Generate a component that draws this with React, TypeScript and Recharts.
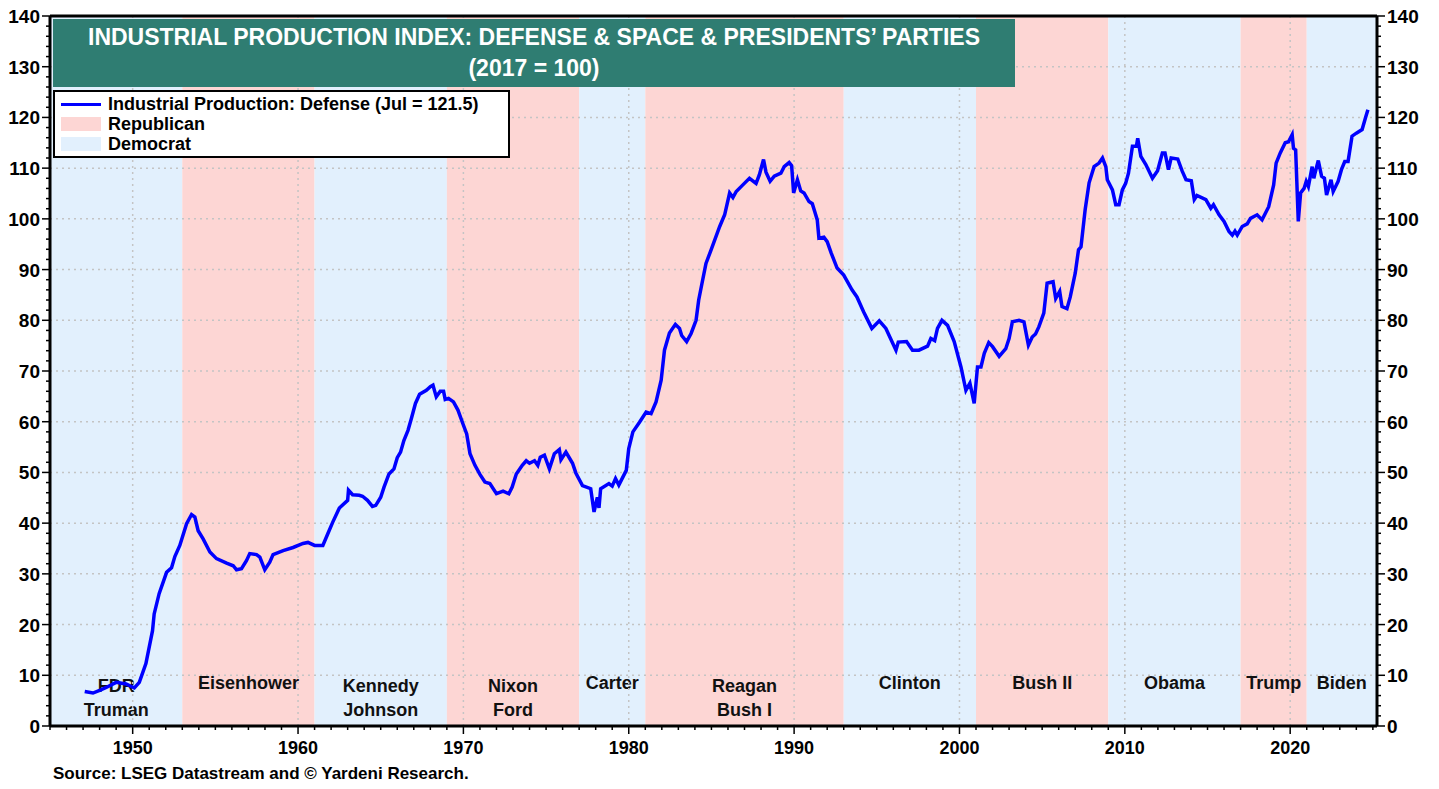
import React from "react";
import { LineChart, Line, XAxis, YAxis, ReferenceArea, ReferenceLine } from "recharts";

// monthly-ish readings of Industrial Production: Defense & Space (2017 = 100)
const YEARS = [
  1947.1, 1947.6, 1948.0, 1948.4, 1949.0, 1949.6, 1950.1, 1950.4, 1950.8, 1951.2,
  1951.3, 1951.6, 1952.05, 1952.35, 1952.55, 1952.85, 1953.26, 1953.56, 1953.76, 1953.96,
  1954.26, 1954.67, 1955.07, 1955.68, 1956.08, 1956.28, 1956.58, 1956.88, 1957.08, 1957.49,
  1957.69, 1957.99, 1958.29, 1958.49, 1959.1, 1959.7, 1960.3, 1960.6, 1961.0, 1961.5,
  1961.8, 1962.1, 1962.5, 1963.0, 1963.05, 1963.3, 1963.7, 1963.9, 1964.2, 1964.5,
  1964.7, 1965.0, 1965.2, 1965.5, 1965.8, 1966.0, 1966.2, 1966.4, 1966.65, 1966.85,
  1967.1, 1967.35, 1967.76, 1968.0, 1968.16, 1968.36, 1968.6, 1968.8, 1968.9, 1969.1,
  1969.4, 1969.67, 1969.97, 1970.2, 1970.4, 1970.7, 1971.0, 1971.3, 1971.6, 1972.0,
  1972.4, 1972.75, 1972.95, 1973.2, 1973.56, 1973.8, 1974.0, 1974.3, 1974.5, 1974.65,
  1974.9, 1975.2, 1975.5, 1975.8, 1975.9, 1976.2, 1976.6, 1976.8, 1977.2, 1977.7,
  1977.9, 1978.1, 1978.2, 1978.3, 1978.8, 1979.0, 1979.2, 1979.4, 1979.85, 1980.0,
  1980.25, 1980.65, 1981.05, 1981.35, 1981.65, 1981.96, 1982.16, 1982.46, 1982.82, 1983.07,
  1983.2, 1983.5, 1983.77, 1984.07, 1984.23, 1984.43, 1984.67, 1984.98, 1985.5, 1985.8,
  1986.1, 1986.3, 1986.5, 1986.9, 1987.3, 1987.7, 1987.9, 1988.15, 1988.3, 1988.55,
  1988.8, 1989.2, 1989.4, 1989.7, 1989.85, 1989.97, 1990.2, 1990.4, 1990.6, 1990.9,
  1991.1, 1991.25, 1991.4, 1991.5, 1991.8, 1992.0, 1992.25, 1992.6, 1993.0, 1993.5,
  1993.8, 1994.2, 1994.7, 1995.15, 1995.55, 1996.16, 1996.3, 1996.8, 1997.16, 1997.55,
  1998.07, 1998.27, 1998.5, 1998.67, 1998.94, 1999.28, 1999.68, 2000.09, 2000.39, 2000.63,
  2000.89, 2001.09, 2001.3, 2001.5, 2001.77, 2002.0, 2002.4, 2002.8, 2003.0, 2003.2,
  2003.6, 2003.9, 2004.17, 2004.4, 2004.6, 2004.8, 2005.1, 2005.3, 2005.66, 2005.82,
  2006.06, 2006.2, 2006.5, 2006.7, 2007.0, 2007.2, 2007.35, 2007.6, 2007.84, 2008.14,
  2008.44, 2008.65, 2008.85, 2008.94, 2009.25, 2009.45, 2009.65, 2009.85, 2010.05, 2010.22,
  2010.46, 2010.7, 2010.78, 2010.97, 2011.27, 2011.67, 2011.98, 2012.27, 2012.43, 2012.64,
  2012.8, 2013.2, 2013.47, 2013.7, 2014.02, 2014.2, 2014.36, 2014.9, 2015.2, 2015.36,
  2015.7, 2016.0, 2016.3, 2016.5, 2016.66, 2016.8, 2017.1, 2017.4, 2017.6, 2018.0,
  2018.3, 2018.5, 2018.7, 2019.0, 2019.15, 2019.4, 2019.7, 2019.9, 2020.12, 2020.2,
  2020.33, 2020.49, 2020.63, 2020.84, 2020.97, 2021.1, 2021.33, 2021.43, 2021.5, 2021.7,
  2021.9, 2022.07, 2022.2, 2022.47, 2022.6, 2022.9, 2023.1, 2023.3, 2023.5, 2023.74,
  2024.0, 2024.35, 2024.55, 2024.7,
];

const DEFENSE = [
  6.8, 6.5, 7.0, 7.6, 8.6, 8.3, 7.5, 8.6, 12.3, 18.8,
  22.1, 26.1, 30.3, 31.2, 33.4, 35.6, 39.9, 41.7, 41.2, 38.5,
  36.9, 34.3, 33.0, 32.1, 31.6, 30.8, 31.0, 32.6, 34.0, 33.8,
  33.3, 30.8, 32.3, 33.8, 34.6, 35.2, 36.0, 36.2, 35.6, 35.6,
  37.9, 40.2, 43.0, 44.5, 46.5, 45.6, 45.5, 45.3, 44.5, 43.3,
  43.5, 45.1, 47.1, 49.7, 50.7, 52.9, 54.0, 56.3, 58.3, 60.6,
  63.6, 65.4, 66.2, 66.9, 67.2, 64.9, 66.0, 66.0, 64.4, 64.6,
  63.9, 62.3, 59.6, 57.6, 53.7, 51.4, 49.6, 48.1, 47.8, 45.8,
  46.3, 45.8, 47.1, 49.7, 51.4, 52.3, 51.8, 52.3, 51.4, 53.0,
  53.4, 50.7, 53.7, 54.5, 52.5, 54.0, 51.8, 49.9, 47.4, 46.8,
  42.2, 45.1, 43.0, 46.8, 47.8, 47.3, 48.8, 47.5, 50.4, 54.7,
  58.0, 59.9, 61.9, 61.6, 63.9, 68.2, 74.1, 77.5, 79.2, 78.4,
  77.0, 75.8, 77.4, 80.0, 84.0, 87.3, 91.2, 93.9, 98.5, 100.8,
  105.1, 104.2, 105.4, 106.7, 108.0, 107.0, 108.7, 111.7, 109.2, 107.4,
  108.4, 109.0, 110.3, 111.1, 110.5, 105.1, 107.7, 105.5, 105.1, 103.4,
  103.0, 101.4, 99.8, 96.2, 96.4, 95.5, 93.2, 90.3, 88.9, 86.0,
  84.6, 81.7, 78.4, 79.9, 78.4, 74.1, 75.7, 75.8, 74.1, 74.1,
  74.9, 76.4, 76.0, 78.4, 80.0, 79.0, 75.8, 70.8, 66.2, 67.6,
  63.6, 70.8, 70.8, 73.5, 75.6, 74.8, 72.9, 74.4, 76.4, 79.7,
  80.0, 79.7, 75.1, 76.7, 77.3, 78.7, 81.4, 87.3, 87.6, 84.3,
  85.7, 82.7, 82.3, 84.6, 89.3, 93.9, 94.5, 101.8, 107.1, 110.3,
  111.0, 112.0, 110.3, 107.7, 105.7, 102.8, 102.8, 105.7, 107.0, 109.0,
  114.3, 114.3, 115.9, 112.3, 110.7, 108.0, 109.5, 113.0, 113.0, 109.7,
  112.0, 111.8, 109.4, 107.7, 107.5, 103.8, 104.6, 103.8, 102.1, 102.8,
  100.8, 99.5, 97.5, 96.8, 97.6, 96.8, 98.5, 99.0, 100.1, 100.8,
  99.8, 101.1, 102.4, 106.7, 111.0, 113.0, 115.0, 115.2, 116.6, 113.9,
  113.6, 99.5, 105.1, 106.0, 107.4, 106.4, 110.3, 108.0, 109.0, 111.5,
  108.4, 108.0, 104.7, 107.7, 105.4, 107.4, 109.7, 111.3, 111.3, 116.3,
  116.9, 117.6, 119.9, 121.5,
];

// presidential terms
const TERM_START = [1945, 1953, 1961, 1969, 1977, 1981, 1993, 2001, 2009, 2017, 2021];
const TERM_END = [1953, 1961, 1969, 1977, 1981, 1993, 2001, 2009, 2017, 2021, 2025.25];
const TERM_PARTY = ["D", "R", "D", "R", "D", "R", "D", "R", "D", "R", "D"];
const TERM_NAMES = [
  ["FDR", "Truman"], ["Eisenhower"], ["Kennedy", "Johnson"], ["Nixon", "Ford"], ["Carter"],
  ["Reagan", "Bush I"], ["Clinton"], ["Bush II"], ["Obama"], ["Trump"], ["Biden"],
];

const DECADES = [1950, 1960, 1970, 1980, 1990, 2000, 2010, 2020];
const Y_MAJOR = [0, 10, 20, 30, 40, 50, 60, 70, 80, 90, 100, 110, 120, 130, 140];

const X_TICKS = Array.from({ length: 81 }, (_, i) => 1945 + i);
const Y_TICKS = Array.from({ length: 71 }, (_, i) => i * 2);

const REP = "#fdd6d4";
const DEM = "#e2f0fd";
const FONT = "'Liberation Sans', Arial, sans-serif";

const data = YEARS.map((year, i) => ({ year, value: DEFENSE[i] }));

const YTick = (props: any) => {
  const { x, y, payload, side } = props;
  const v = payload.value;
  const major = v % 10 === 0;
  const dir = side === "left" ? -1 : 1;
  return (
    <g>
      <line x1={x} x2={x + dir * (major ? 8 : 4)} y1={y} y2={y} stroke="#000" strokeWidth={1.5} />
      {major && (
        <text
          x={x + dir * 10}
          y={y}
          dy={7}
          textAnchor={side === "left" ? "end" : "start"}
          fontFamily={FONT}
          fontWeight="bold"
          fontSize={19}
          fill="#000"
        >
          {v}
        </text>
      )}
    </g>
  );
};

const XTick = (props: any) => {
  const { x, y, payload } = props;
  const v = payload.value;
  const major = v % 10 === 0;
  return (
    <g>
      <line x1={x} x2={x} y1={y} y2={y + (major ? 8 : 4)} stroke="#000" strokeWidth={1.5} />
      {major && (
        <text x={x} y={y + 28} textAnchor="middle" fontFamily={FONT} fontWeight="bold" fontSize={18} fill="#000">
          {v}
        </text>
      )}
    </g>
  );
};

const TermLabel = (props: any) => {
  const { viewBox, lines } = props;
  if (!viewBox) return null;
  const cx = viewBox.x + viewBox.width / 2;
  const bottom = viewBox.y + viewBox.height;
  const base = lines.length > 1 ? [bottom - 34, bottom - 10] : [bottom - 37];
  return (
    <g>
      {lines.map((s: string, i: number) => (
        <text key={s} x={cx} y={base[i]} textAnchor="middle" fontFamily={FONT} fontWeight="bold" fontSize={18} fill="#111">
          {s}
        </text>
      ))}
    </g>
  );
};

export default function App() {
  return (
    <div
      style={{
        position: "absolute",
        left: 0,
        top: 0,
        width: 1439,
        height: 789,
        background: "#fff",
        fontFamily: FONT,
      }}
    >
      <LineChart width={1439} height={789} data={data} margin={{ top: 16, right: 8, bottom: 33, left: 8 }}>
        {TERM_START.map((s, i) => (
          <ReferenceArea
            key={s}
            yAxisId="left"
            x1={s}
            x2={TERM_END[i]}
            y1={0}
            y2={140}
            fill={TERM_PARTY[i] === "R" ? REP : DEM}
            fillOpacity={1}
            strokeWidth={0}
            ifOverflow="hidden"
            label={<TermLabel lines={TERM_NAMES[i]} />}
          />
        ))}
        {Y_MAJOR.slice(1, -1).map((v) => (
          <ReferenceLine key={"h" + v} yAxisId="left" y={v} stroke="#c4c4c4" strokeWidth={1.5} strokeDasharray="2 4" />
        ))}
        {DECADES.map((d) => (
          <ReferenceLine key={"v" + d} yAxisId="left" x={d} stroke="#c4c4c4" strokeWidth={1.5} strokeDasharray="2 4" />
        ))}
        <XAxis
          dataKey="year"
          type="number"
          domain={[1945, 2025.25]}
          allowDataOverflow
          ticks={X_TICKS}
          interval={0}
          tickSize={0}
          tickMargin={0}
          height={30}
          axisLine={{ stroke: "#000", strokeWidth: 3 }}
          tickLine={false}
          tick={<XTick />}
        />
        <YAxis
          yAxisId="left"
          orientation="left"
          domain={[0, 140]}
          ticks={Y_TICKS}
          interval={0}
          width={42}
          tickSize={0}
          tickMargin={0}
          axisLine={{ stroke: "#000", strokeWidth: 3 }}
          tickLine={false}
          tick={<YTick side="left" />}
        />
        <YAxis
          yAxisId="right"
          orientation="right"
          domain={[0, 140]}
          ticks={Y_TICKS}
          interval={0}
          width={54}
          tickSize={0}
          tickMargin={0}
          axisLine={{ stroke: "#000", strokeWidth: 3 }}
          tickLine={false}
          tick={<YTick side="right" />}
        />
        <ReferenceLine yAxisId="left" y={140} stroke="#000" strokeWidth={3} />
        <Line
          yAxisId="right"
          dataKey="value"
          stroke="none"
          strokeWidth={0}
          dot={false}
          legendType="none"
          isAnimationActive={false}
        />
        <Line
          yAxisId="left"
          dataKey="value"
          type="linear"
          stroke="#0000ff"
          strokeWidth={3.5}
          dot={false}
          isAnimationActive={false}
        />
      </LineChart>

      <div
        style={{
          position: "absolute",
          left: 53,
          top: 19,
          width: 962,
          height: 68,
          background: "#2f7d72",
          color: "#fff",
          fontWeight: "bold",
          fontSize: 23,
          textAlign: "center",
          lineHeight: "31px",
          paddingTop: 3,
          boxSizing: "border-box",
        }}
      >
        <div>INDUSTRIAL PRODUCTION INDEX: DEFENSE &amp; SPACE &amp; PRESIDENTS’ PARTIES</div>
        <div>(2017 = 100)</div>
      </div>

      <div
        style={{
          position: "absolute",
          left: 53,
          top: 90,
          width: 457,
          height: 68,
          background: "#fff",
          border: "2px solid #000",
          boxSizing: "border-box",
          fontWeight: "bold",
          fontSize: 18,
          color: "#000",
          paddingTop: 2,
        }}
      >
        {[
          { label: "Industrial Production: Defense (Jul = 121.5)", kind: "line" },
          { label: "Republican", kind: REP },
          { label: "Democrat", kind: DEM },
        ].map((r) => (
          <div key={r.label} style={{ display: "flex", alignItems: "center", height: 20 }}>
            <div style={{ width: 40, marginLeft: 6, marginRight: 7, display: "flex", alignItems: "center" }}>
              {r.kind === "line" ? (
                <div style={{ width: 40, height: 3, background: "#0000ff" }} />
              ) : (
                <div style={{ width: 40, height: 14, background: r.kind }} />
              )}
            </div>
            <span>{r.label}</span>
          </div>
        ))}
      </div>

      <div
        style={{
          position: "absolute",
          left: 53,
          top: 764,
          fontWeight: "bold",
          fontSize: 17,
          color: "#000",
        }}
      >
        Source: LSEG Datastream and © Yardeni Research.
      </div>
    </div>
  );
}
